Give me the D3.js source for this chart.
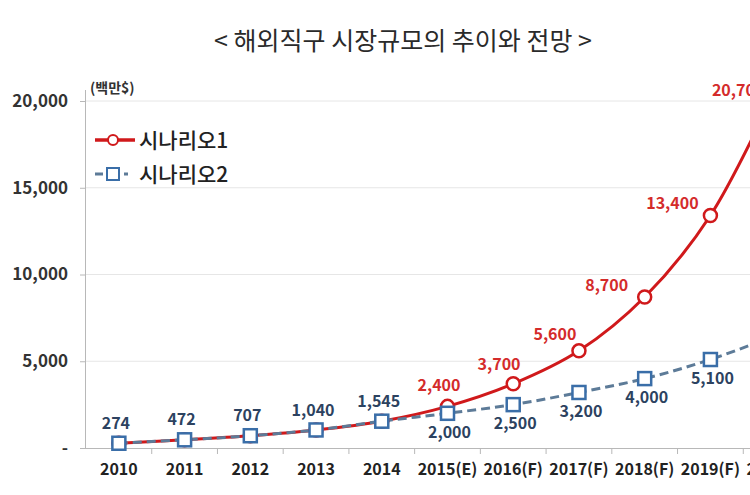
<!DOCTYPE html>
<html>
<head>
<meta charset="utf-8">
<script src="https://cdnjs.cloudflare.com/ajax/libs/d3/7.8.5/d3.min.js"></script>
<style>
    body { margin: 0; background: #fff; }
    svg { display: block; font-family: "Noto Sans CJK KR", "Noto Sans", sans-serif; }
</style>
</head>
<body>
<svg id="chart" width="750" height="495"></svg>
<script>
var years = ["2010", "2011", "2012", "2013", "2014", "2015(E)", "2016(F)", "2017(F)", "2018(F)", "2019(F)", "2020(F)"];
var scenario1 = [274, 472, 707, 1040, 1545, 2400, 3700, 5600, 8700, 13400, 20700];
var scenario2 = [274, 472, 707, 1040, 1545, 2000, 2500, 3200, 4000, 5100, 6500];
var yTicks = [0, 5000, 10000, 15000, 20000];
var seriesNames = ["시나리오1", "시나리오2"];
// first index where the two scenarios split (labels shown separately from here)
var splitIndex = 5;

var RED = "#d0191b";
var BLUE_LINE = "#5d7b98";
var BLUE_MARK = "#3a6ea8";
var RED_TEXT = "#d42b2b";
var BLUE_TEXT = "#2c4260";

draw_chart();

function draw_chart() {
    var svg = d3.select("#chart");

    // plot runs past the right edge, like the cropped original
    var x = d3.scaleBand().domain(years).range([86, 809]).padding(0);
    var y = d3.scaleLinear().domain([0, 20000]).range([448, 101]);
    var cx = function(i) { return x(years[i]) + x.bandwidth() / 2; };

    svg.append("text")
        .attr("x", 403).attr("y", 50)
        .attr("text-anchor", "middle")
        .attr("font-size", 25)
        .attr("fill", "#2a2a2a")
        .text("< 해외직구 시장규모의 추이와 전망 >");

    // gridlines
    svg.append("g")
        .selectAll("line")
        .data(yTicks.filter(function(d) { return d > 0; }))
        .enter().append("line")
        .attr("x1", 86).attr("x2", 750)
        .attr("y1", function(d) { return y(d); })
        .attr("y2", function(d) { return y(d); })
        .attr("stroke", "#e6e6e6");

    var yAxis = svg.append("g")
        .attr("transform", "translate(86,0)")
        .call(d3.axisLeft(y).tickValues(yTicks).tickSize(6).tickPadding(12)
            .tickFormat(function(d) { return d === 0 ? "-" : d3.format(",")(d); }));
    yAxis.select(".domain").attr("d", "M-0.5," + y(0) + "V90").attr("stroke", "#b8b8b8");
    yAxis.selectAll(".tick line").attr("stroke", "#b8b8b8");
    yAxis.selectAll(".tick text")
        .attr("font-size", 17).attr("font-weight", 700).attr("fill", "#333")
        .attr("font-family", "'Noto Sans CJK KR', sans-serif");

    var xAxis = svg.append("g")
        .attr("transform", "translate(0," + y(0) + ")")
        .call(d3.axisBottom(x).tickSize(0).tickPadding(16));
    xAxis.select(".domain").attr("stroke", "#b8b8b8").attr("d", "M86,0.5H809");
    xAxis.selectAll(".tick text")
        .attr("font-size", 16).attr("font-weight", 700).attr("fill", "#222")
        .attr("font-family", "'Noto Sans CJK KR', sans-serif");
    // category boundary ticks
    xAxis.append("g")
        .selectAll("line")
        .data(years)
        .enter().append("line")
        .attr("x1", function(d) { return x(d) + x.bandwidth(); })
        .attr("x2", function(d) { return x(d) + x.bandwidth(); })
        .attr("y1", 0).attr("y2", 6)
        .attr("stroke", "#b8b8b8");

    svg.append("text")
        .attr("x", 90).attr("y", 93)
        .attr("font-size", 14).attr("font-weight", 700).attr("fill", "#333")
        .text("(백만$)");

    var line = d3.line()
        .x(function(d, i) { return cx(i); })
        .y(function(d) { return y(d); })
        .curve(d3.curveCatmullRom.alpha(0.5));

    svg.append("path")
        .datum(scenario1)
        .attr("d", line)
        .attr("fill", "none")
        .attr("stroke", RED)
        .attr("stroke-width", 3);

    svg.append("path")
        .datum(scenario2)
        .attr("d", line)
        .attr("fill", "none")
        .attr("stroke", BLUE_LINE)
        .attr("stroke-width", 3)
        .attr("stroke-dasharray", "9,5");

    svg.append("g")
        .selectAll("circle")
        .data(scenario1)
        .enter().append("circle")
        .attr("cx", function(d, i) { return cx(i); })
        .attr("cy", function(d) { return y(d); })
        .attr("r", 6.5)
        .attr("fill", "#fff")
        .attr("stroke", RED)
        .attr("stroke-width", 2.5);

    svg.append("g")
        .selectAll("rect")
        .data(scenario2)
        .enter().append("rect")
        .attr("x", function(d, i) { return cx(i) - 6.5; })
        .attr("y", function(d) { return y(d) - 6.5; })
        .attr("width", 13).attr("height", 13)
        .attr("fill", "#fff")
        .attr("stroke", BLUE_MARK)
        .attr("stroke-width", 2.5);

    // scenario 1 labels: up and to the left, more sideways where the curve is steep
    svg.append("g")
        .selectAll("text")
        .data(scenario1)
        .enter().filter(function(d, i) { return i >= splitIndex; })
        .append("text")
        .each(function(d, i0) {
            var i = i0 + splitIndex;
            var prev = Math.max(0, i - 1), next = Math.min(scenario1.length - 1, i + 1);
            var slope = (y(scenario1[prev]) - y(scenario1[next])) / (cx(next) - cx(prev));
            var t = Math.max(0, Math.min(1, (slope - 0.2) / 0.8));
            var ly = Math.max(90, y(d) - 22 + 10 * t);
            d3.select(this)
                .attr("x", cx(i) - 5 - 33 * t)
                .attr("y", ly)
                .attr("dy", "0.35em");
        })
        .attr("text-anchor", "middle")
        .attr("font-size", 16).attr("font-weight", 700)
        .attr("fill", RED_TEXT)
        .text(function(d) { return d3.format(",")(d); });

    // scenario 2 labels: above while the lines share values, below afterwards
    svg.append("g")
        .selectAll("text")
        .data(scenario2)
        .enter().append("text")
        .attr("x", function(d, i) { return i < splitIndex ? cx(i) - 3 : cx(i) + 2; })
        .attr("y", function(d, i) { return i < splitIndex ? y(d) - 20 : y(d) + 19; })
        .attr("dy", "0.35em")
        .attr("text-anchor", "middle")
        .attr("font-size", 16).attr("font-weight", 700)
        .attr("fill", BLUE_TEXT)
        .text(function(d) { return d3.format(",")(d); });

    draw_legend(svg);
}

function draw_legend(svg) {
    var g = svg.append("g");

    g.append("line")
        .attr("x1", 95).attr("x2", 135).attr("y1", 140).attr("y2", 140)
        .attr("stroke", RED).attr("stroke-width", 3.5);
    g.append("circle")
        .attr("cx", 113).attr("cy", 140).attr("r", 5)
        .attr("fill", "#fff").attr("stroke", RED).attr("stroke-width", 2);

    g.append("line")
        .attr("x1", 95).attr("x2", 133).attr("y1", 174).attr("y2", 174)
        .attr("stroke", BLUE_LINE).attr("stroke-width", 3)
        .attr("stroke-dasharray", "8,21,4,30");
    g.append("rect")
        .attr("x", 107).attr("y", 168).attr("width", 12).attr("height", 12)
        .attr("fill", "#fff").attr("stroke", BLUE_MARK).attr("stroke-width", 2);

    g.selectAll("text")
        .data(seriesNames)
        .enter().append("text")
        .attr("x", 139)
        .attr("y", function(d, i) { return 140 + i * 34; })
        .attr("dy", "0.36em")
        .attr("font-size", 21).attr("font-weight", 500).attr("fill", "#222")
        .text(function(d) { return d; });
}
</script>
</body>
</html>
